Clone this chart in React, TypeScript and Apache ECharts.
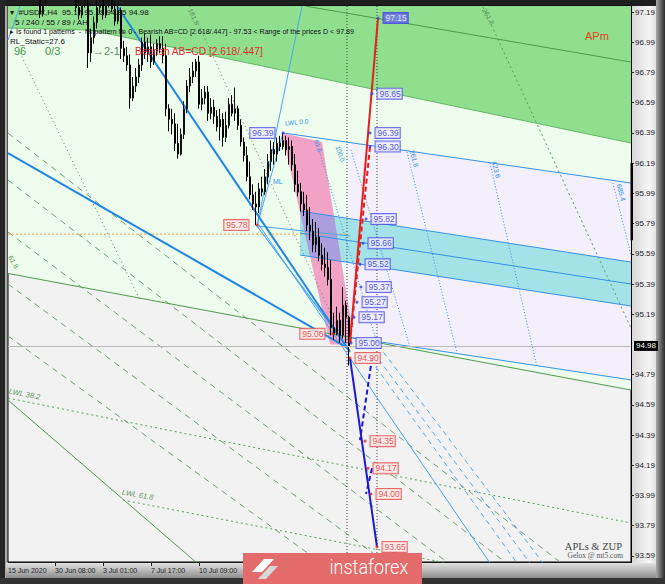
import React, { useEffect, useRef } from "react";
import * as echarts from "echarts";

const FONT = "'Liberation Sans', Arial, sans-serif";
const SERIF = "'Liberation Serif', 'DejaVu Serif', serif";

// ---- axes (x = H4 bar index, y = price) ----
const X_MIN = -0.67;
const X_MAX = 207;
const Y_MIN = 93.55;
const Y_MAX = 97.23;

const priceTicks = [97.19, 96.99, 96.79, 96.59, 96.39, 96.19, 95.99, 95.79, 95.59, 95.39, 95.19, 94.79, 94.59, 94.39, 94.19, 93.99, 93.79, 93.59];
const timeTickPos = [-0.67, 15, 31, 47, 63];
const timeTickLabels = ["15 Jun 2020", "30 Jun 08:00", "3 Jul 01:00", "7 Jul 17:00", "10 Jul 09:00"];
const lastPrice = 94.98;

// ---- candles: [open, high, low, close], bar k ----
const ohlc: number[][] = [
  [97.35, 97.42, 97.3, 97.38], [97.38, 97.44, 97.33, 97.36], [97.36, 97.4, 97.28, 97.31], [97.31, 97.37, 97.27, 97.34],
  [97.34, 97.45, 97.32, 97.42], [97.42, 97.48, 97.37, 97.4], [97.4, 97.43, 97.31, 97.33], [97.33, 97.36, 97.27, 97.3],
  [97.3, 97.34, 97.25, 97.27], [97.27, 97.31, 97.24, 97.29], [97.29, 97.31, 97.15, 97.18], [97.18, 97.26, 97.16, 97.24],
  [97.24, 97.35, 97.23, 97.33], [97.33, 97.4, 97.3, 97.38], [97.38, 97.46, 97.35, 97.44], [97.44, 97.5, 97.39, 97.41],
  [97.41, 97.45, 97.36, 97.39], [97.39, 97.44, 97.34, 97.36], [97.36, 97.41, 97.31, 97.38], [97.38, 97.42, 97.3, 97.33],
  [97.33, 97.37, 97.28, 97.31], [97.31, 97.34, 97.25, 97.29], [97.29, 97.33, 97.19, 97.22], [97.22, 97.27, 97.14, 97.17],
  [97.17, 97.26, 97.15, 97.24], [97.24, 97.32, 97.22, 97.28], [97.24, 97.27, 96.82, 96.92], [96.92, 97.08, 96.86, 97.02],
  [97.02, 97.16, 96.98, 97.12], [97.12, 97.28, 97.08, 97.22], [97.22, 97.32, 97.18, 97.27], [97.27, 97.3, 97.14, 97.17],
  [97.17, 97.29, 97.15, 97.26], [97.26, 97.34, 97.22, 97.3], [97.3, 97.33, 97.19, 97.21], [97.21, 97.26, 97.1, 97.13],
  [97.13, 97.24, 97.11, 97.2], [97.2, 97.22, 96.88, 96.95], [96.95, 97.0, 96.86, 96.9], [96.9, 96.96, 96.8, 96.84],
  [96.84, 96.91, 96.55, 96.62], [96.62, 96.76, 96.6, 96.7], [96.7, 96.82, 96.66, 96.76], [96.76, 96.88, 96.72, 96.84],
  [96.84, 97.02, 96.8, 96.99], [96.99, 97.05, 96.88, 96.92], [96.92, 97.02, 96.86, 96.96], [96.96, 97.04, 96.82, 96.86],
  [96.86, 96.98, 96.84, 96.93], [96.93, 97.01, 96.9, 96.98], [96.98, 97.03, 96.92, 96.95], [96.95, 97.03, 96.85, 96.9],
  [96.9, 96.98, 96.5, 96.55], [96.55, 96.58, 96.4, 96.48], [96.48, 96.55, 96.38, 96.45], [96.45, 96.52, 96.27, 96.32],
  [96.32, 96.45, 96.22, 96.25], [96.25, 96.42, 96.24, 96.38], [96.38, 96.6, 96.35, 96.55], [96.55, 96.74, 96.52, 96.7],
  [96.7, 96.82, 96.66, 96.76], [96.76, 96.86, 96.72, 96.8], [96.8, 96.88, 96.76, 96.86], [96.86, 96.9, 96.55, 96.58],
  [96.58, 96.68, 96.54, 96.62], [96.62, 96.7, 96.58, 96.66], [96.66, 96.7, 96.47, 96.52], [96.52, 96.62, 96.48, 96.56],
  [96.56, 96.61, 96.45, 96.5], [96.5, 96.54, 96.4, 96.43], [96.43, 96.55, 96.34, 96.48], [96.48, 96.52, 96.3, 96.36],
  [96.36, 96.53, 96.33, 96.44], [96.44, 96.62, 96.42, 96.58], [96.58, 96.64, 96.5, 96.52], [96.52, 96.69, 96.47, 96.55],
  [96.55, 96.57, 96.41, 96.44], [96.44, 96.48, 96.3, 96.33], [96.33, 96.36, 96.2, 96.24], [96.24, 96.3, 96.07, 96.1],
  [96.1, 96.2, 95.95, 95.98], [95.98, 96.05, 95.88, 95.92], [95.92, 96.0, 95.78, 95.9], [95.9, 96.06, 95.86, 96.02],
  [96.02, 96.1, 95.97, 96.0], [96.0, 96.15, 95.98, 96.1], [96.1, 96.25, 96.05, 96.2], [96.2, 96.34, 96.14, 96.28],
  [96.28, 96.33, 96.18, 96.25], [96.25, 96.36, 96.2, 96.32], [96.32, 96.37, 96.27, 96.3], [96.3, 96.39, 96.28, 96.34],
  [96.34, 96.37, 96.24, 96.28], [96.28, 96.36, 96.18, 96.3], [96.3, 96.34, 96.14, 96.18], [96.18, 96.25, 96.0, 96.05],
  [96.05, 96.14, 95.97, 96.0], [96.0, 96.06, 95.87, 95.92], [95.92, 96.0, 95.84, 95.88], [95.88, 95.98, 95.74, 95.78],
  [95.78, 95.9, 95.68, 95.74], [95.74, 95.82, 95.6, 95.65], [95.65, 95.8, 95.6, 95.7], [95.7, 95.76, 95.54, 95.58],
  [95.58, 95.66, 95.48, 95.52], [95.52, 95.63, 95.44, 95.5], [95.5, 95.6, 95.38, 95.42], [95.42, 95.55, 95.05, 95.1],
  [95.1, 95.2, 95.02, 95.06], [95.06, 95.24, 95.05, 95.15], [95.15, 95.2, 95.0, 95.05], [95.05, 95.37, 95.03, 95.25],
  [95.25, 95.28, 95.0, 95.17], [95.17, 95.18, 94.85, 94.98],
];

// ---- zones (polygons in bar/price units) ----
const lightGreenZone = [[-0.67, 97.23], [207, 97.23], [207, 94.688], [-0.67, 95.46]];
const greenBand = [[-0.67, 97.23], [207, 97.23], [207, 96.323], [26.67, 97.071], [-0.67, 97.084]];
const lavenderZone = [[112.33, 96.329], [207, 96.058], [207, 94.755], [112.33, 95.04]];
const cyanZone = [[96.67, 95.873], [207, 95.535], [207, 95.244], [96.67, 95.582]];
const pinkZone = [[90.67, 96.39], [104, 96.33], [114, 95.1], [114, 94.99], [106.67, 94.99]];
const pinkCyanOverlap = [[96.67, 95.87], [108.0, 95.838], [110.43, 95.54], [100.03, 95.572]];

// ---- trend lines ----
const blueThick = [
  [[35.67, 97.23], [113.33, 94.94]],
  [[-0.67, 96.257], [112.67, 94.966]],
];
const blueThin = [
  [[82.33, 95.8], [160, 93.543]],
  [[82.33, 95.774], [113.33, 94.953]],
  [[82.33, 95.774], [111.67, 94.986]],
  [[82.33, 95.774], [113.33, 95.708]],
  [[82.33, 95.774], [97.33, 97.23]],
  [[82.33, 95.774], [91, 96.389]],
  [[3.33, 97.23], [-0.67, 97.005]],
];
const channelLines = [
  [[91, 96.39], [207, 96.058]],
  [[96.67, 95.873], [207, 95.535]],
  [[96.67, 95.727], [207, 95.39]],
  [[96.67, 95.582], [207, 95.244]],
  [[112.67, 95.039], [207, 94.755]],
];
const blueDashed = [
  [[116.67, 94.986], [169, 93.543]],
  [[119.33, 94.986], [173.33, 93.543]],
  [[122.67, 94.986], [177.67, 93.543]],
];
const fibTimeLines = [
  [[132.33, 96.263], [149, 94.933]],
  [[160, 96.191], [175.67, 94.84]],
  [[201, 96.058], [207, 95.582]],
  [[113.67, 96.277], [133.33, 94.973]],
  [[102.33, 96.323], [122.33, 94.999]],
];
const greenSolid = [
  [[-0.67, 95.46], [207, 94.688]],
  [[98.33, 97.23], [207, 96.859]],
  [[-0.67, 94.622], [62.33, 93.543]],
];
const greenBandEdge = [[-0.67, 97.084], [26.67, 97.071], [207, 96.323]];
const greenDotted = [
  [[-0.67, 94.635], [207, 93.808]],
  [[37.67, 93.96], [145.67, 93.543]],
  [[157.67, 97.223], [207, 95.099]],
];
const greyDotted = [
  [[3.33, 96.919], [43.33, 95.284]],
  [[60, 97.23], [111.67, 94.986]],
];
const greenDashed = [
  [[-0.67, 96.389], [183.33, 93.55]],
  [[-0.67, 96.078], [165, 93.55]],
  [[-0.67, 95.734], [145.67, 93.55]],
  [[-0.67, 95.39], [125, 93.55]],
  [[-0.67, 95.046], [103.33, 93.55]],
];
const orangeLevel = [[-0.67, 95.72], [112, 95.72]];
const verticalBars = [112.33, 122.33];
const edgeBar = [[207.33, 96.19], [207.33, 95.68]];

// AB=CD projections
const redSolid = [[113.33, 95.0], [122.67, 97.15]];
const redDashed = [[113.33, 95.0], [120, 96.3]];
const blueProjSolid = [[113.33, 94.9], [122.33, 93.65]];
const blueProjDashed = [
  [[120.67, 94.9], [116.67, 94.357]],
  [[120.67, 94.17], [118.67, 94.0]],
];

// price label boxes: [bar, price, kind, side]
const priceBoxes: [number, number, string, string][] = [
  [122.67, 97.15, "bs", "r"], [120.67, 96.65, "b", "r"], [120, 96.39, "b", "r"], [120, 96.3, "b", "r"],
  [118.67, 95.82, "b", "r"], [117.67, 95.66, "b", "r"], [116.67, 95.52, "b", "r"], [117, 95.37, "b", "r"],
  [115.67, 95.27, "b", "r"], [114.67, 95.17, "b", "r"], [113.67, 95.0, "b", "r"], [91, 96.39, "b", "l"],
  [82.33, 95.78, "r", "l"], [107.67, 95.06, "r", "l"], [113.33, 94.9, "r", "r"], [118.33, 94.35, "r", "r"],
  [119.33, 94.17, "r", "r"], [120.33, 94.0, "r", "r"], [122.33, 93.65, "r", "r"],
];

function lineSeries(pts: number[][], color: string, width: number, type: any, z = 3, clip = true) {
  return {
    type: "line", data: pts, symbol: "none", showSymbol: false, silent: true, z,
    lineStyle: { color, width, type }, clip,
  };
}

function polySeries(pts: number[][], fill: string, z = 1, opacity = 1) {
  return {
    type: "custom", coordinateSystem: "cartesian2d", silent: true, z, clip: true,
    data: [pts[0]],
    renderItem: (_p: any, api: any) => ({
      type: "polygon",
      shape: { points: pts.map((p) => api.coord(p)) },
      style: { fill, opacity },
    }),
  };
}

const boxStyles: Record<string, any> = {
  b: { color: "#2c2cd6", backgroundColor: "#eeeefd", borderColor: "#4848e2" },
  bs: { color: "#ffffff", backgroundColor: "#6b6bef", borderColor: "#3c3ce0" },
  r: { color: "#e22a2a", backgroundColor: "#fdeaea", borderColor: "#e24848" },
};

// deg > 0 rotates clockwise (text runs down-right)
function rotText(text: string, x: number, y: number, deg: number, fill: string, size = 7, italic = false) {
  return {
    type: "text", x, y, rotation: (-deg * Math.PI) / 180, z: 50, silent: true,
    style: { text, fill, font: `${italic ? "italic " : ""}${size}px ${FONT}`, verticalAlign: "middle" },
  };
}

function buildOption(): any {
  const series: any[] = [];
  series.push(polySeries(lightGreenZone, "#eefcee", 1));
  series.push(polySeries(greenBand, "#8fdf8f", 1));
  series.push(polySeries(lavenderZone, "#f3effb", 1));
  series.push(polySeries(cyanZone, "#9ee0e6", 1, 0.95));
  series.push(polySeries(pinkZone, "#f29ac2", 1, 0.92));
  series.push(polySeries(pinkCyanOverlap, "#aa9fdc", 1));

  greenDashed.forEach((l) => series.push(lineSeries(l, "#6f9f6f", 1, [6, 5])));
  greenDotted.forEach((l) => series.push(lineSeries(l, "#5aa05a", 1, [2, 3])));
  greyDotted.forEach((l) => series.push(lineSeries(l, "#6b7d6b", 1, [1, 3])));
  greenSolid.forEach((l) => series.push(lineSeries(l, "#4f9a4f", 1, "solid")));
  series.push(lineSeries(greenBandEdge, "#62b862", 1, "solid"));
  series.push(lineSeries(orangeLevel, "#f0a030", 1, [2, 2]));
  verticalBars.forEach((v) => series.push(lineSeries([[v, Y_MIN], [v, Y_MAX]], "#444", 1, [1, 2])));
  channelLines.forEach((l) => series.push(lineSeries(l, "#3592e6", 1, "solid")));
  fibTimeLines.forEach((l) => series.push(lineSeries(l, "#3592e6", 1, [1, 2])));
  blueDashed.forEach((l) => series.push(lineSeries(l, "#5aaaf0", 1, [5, 4])));
  blueThin.forEach((l) => series.push(lineSeries(l, "#4aa4ee", 1, "solid")));
  blueThick.forEach((l) => series.push(lineSeries(l, "#2185e3", 2, "solid")));
  series.push(lineSeries(edgeBar, "#000", 3, "solid", 7, false));

  series.push({
    type: "candlestick", z: 4, silent: true, clip: true, barWidth: 2,
    data: ohlc.map((d, k) => [k, d[0], d[3], d[2], d[1]]),
    encode: { x: 0, y: [1, 2, 3, 4] },
    itemStyle: { color: "#a4a4a4", color0: "#000", borderColor: "#111", borderColor0: "#000", borderWidth: 1 },
    markLine: {
      symbol: "none", silent: true, animation: false,
      lineStyle: { color: "#b8b8b8", width: 1, type: "solid" },
      label: {
        position: "end", formatter: lastPrice.toFixed(2), backgroundColor: "#000", color: "#fff",
        fontSize: 8, fontFamily: FONT, padding: [1, 2, 1, 2], distance: 3,
      },
      data: [{ yAxis: lastPrice }],
    },
  });

  series.push(lineSeries(redSolid, "#e42020", 2, "solid", 5));
  series.push(lineSeries(redDashed, "#e42020", 2, [5, 3], 5));
  series.push(lineSeries(blueProjSolid, "#1a1ad2", 2, "solid", 5));
  blueProjDashed.forEach((l) => series.push(lineSeries(l, "#1a1ad2", 2, [5, 3], 5)));

  series.push({
    type: "scatter", z: 6, silent: true, clip: false, symbol: "circle", symbolSize: 3,
    data: priceBoxes.map(([v, p, kind, side]) => ({
      value: [v, p],
      itemStyle: { color: kind === "r" ? "#e22a2a" : "#3c3ce0" },
      label: {
        show: true, position: side === "r" ? "right" : "left", distance: side === "r" ? 4 : 7,
        formatter: p.toFixed(2), fontSize: 8.5, fontFamily: FONT, borderWidth: 1,
        padding: [1, 1, 0, 2], lineHeight: 9, ...boxStyles[kind],
      },
    })),
  });

  const graphic: any[] = [
    // frame
    { type: "rect", shape: { x: 0, y: 0, width: 665, height: 6 }, style: { fill: "#1e1e1e" }, z: -1 },
    { type: "rect", shape: { x: 0, y: 0, width: 6, height: 584 }, style: { fill: "#262626" }, z: -1 },
    { type: "rect", shape: { x: 5, y: 6, width: 3, height: 572 }, style: { fill: "#a8a8a8" }, z: -1 },
    {
      type: "rect", shape: { x: 632, y: 6, width: 25, height: 572 }, z: -1,
      style: { fill: new echarts.graphic.LinearGradient(0, 0, 1, 0, [{ offset: 0, color: "#d8d8d8" }, { offset: 0.7, color: "#f6f6f6" }, { offset: 1, color: "#dedede" }]) },
    },
    {
      type: "rect", shape: { x: 656, y: 0, width: 9, height: 584 }, z: -1,
      style: { fill: new echarts.graphic.LinearGradient(0, 0, 1, 0, [{ offset: 0, color: "#a9a9a9" }, { offset: 1, color: "#2a2a2a" }]) },
    },
    {
      type: "rect", shape: { x: 6, y: 563, width: 650, height: 15 }, z: -1,
      style: { fill: new echarts.graphic.LinearGradient(0, 0, 0, 1, [{ offset: 0, color: "#e2e2e2" }, { offset: 1, color: "#8e8e8e" }]) },
    },
    { type: "rect", shape: { x: 0, y: 578, width: 665, height: 6 }, style: { fill: "#333" }, z: -1 },

    // header
    { type: "text", x: 10, y: 12, z: 50, silent: true, style: { text: "▾  #USDX,H4  95.17 95.18 94.85 94.98", fill: "#111", font: `8px ${FONT}`, verticalAlign: "middle" } },
    { type: "text", x: 15, y: 22, z: 50, silent: true, style: { text: "5 / 240 / 55 / 89 / AH", fill: "#111", font: `8px ${FONT}`, verticalAlign: "middle" } },
    { type: "text", x: 10, y: 32, z: 50, silent: true, style: { text: "▸ Is found 1 patterns  -  № pattern № 0 - Bearish AB=CD [2.618/.447] - 97.53 < Range of the prices D < 97.89", fill: "#111", font: `7.1px ${FONT}`, verticalAlign: "middle" } },
    { type: "text", x: 10, y: 41, z: 50, silent: true, style: { text: "RL_Static=27.6", fill: "#111", font: `8px ${FONT}`, verticalAlign: "middle" } },
    { type: "text", x: 14, y: 51, z: 50, silent: true, style: { text: "96", fill: "#3e9a3e", font: `11px ${FONT}`, verticalAlign: "middle" } },
    { type: "text", x: 45, y: 51, z: 50, silent: true, style: { text: "0/3", fill: "#3e9a3e", font: `11px ${FONT}`, verticalAlign: "middle" } },
    { type: "text", x: 93, y: 51, z: 50, silent: true, style: { text: "→2-1", fill: "#5f8f5f", font: `11px ${FONT}`, verticalAlign: "middle" } },
    { type: "text", x: 135, y: 51, z: 50, silent: true, style: { text: "Bearish AB=CD [2.618/.447]", fill: "#e03030", font: `10.2px ${FONT}`, verticalAlign: "middle" } },
    { type: "text", x: 585, y: 36, z: 50, silent: true, style: { text: "APm", fill: "#e2441c", font: `11px ${FONT}`, verticalAlign: "middle" } },
    { type: "text", x: 622, y: 546, z: 50, silent: true, style: { text: "APLs & ZUP", fill: "#444", font: `10.5px ${SERIF}`, align: "right", verticalAlign: "middle" } },
    { type: "text", x: 623, y: 555, z: 50, silent: true, style: { text: "Gelox @ mt5.com", fill: "#555", font: `7.5px ${SERIF}`, align: "right", verticalAlign: "middle" } },

    // rotated level captions
    rotText("161.8", 190, 9, 65, "#5f955f"),
    rotText("261.8", 484, 9, 60, "#5f955f"),
    rotText("261.8", 412, 150, 75, "#3592e6"),
    rotText("423.6", 494, 161, 75, "#3592e6"),
    rotText("685.4", 619, 184, 75, "#3592e6"),
    rotText("61.8", 10, 256, 60, "#5f955f"),
    rotText("LWL 38.2", 9, 391, 11, "#5f955f", 7.5, true),
    rotText("LWL 61.8", 122, 492, 10, "#5f955f", 7.5, true),
    rotText("LWL 0.0", 285, 123, -5, "#3592e6", 6.5),
    rotText("ML", 273, 181, 0, "#3592e6", 7),
    rotText("61.8", 316, 140, 70, "#3592e6", 6.5),
    rotText("100.0", 338, 146, 72, "#3592e6", 6.5),

    // instaforex banner
    { type: "rect", shape: { x: 243, y: 553, width: 179, height: 31 }, style: { fill: "#e46b6b" }, z: 100 },
    { type: "text", x: 289, y: 567, z: 101, silent: true, style: { text: "instaforex", fill: "#ffffff", font: `300 21px Roboto, ${FONT}`, verticalAlign: "middle" }, scaleX: 0.86, originX: 289 },
    { type: "polygon", shape: { points: [[252, 572], [264, 559], [274, 559], [262, 572]] }, style: { fill: "#ffffff" }, z: 101 },
    { type: "polygon", shape: { points: [[258, 579], [270, 566], [278, 566], [266, 579]] }, style: { fill: "#d8d8d8" }, z: 101 },
  ];

  return {
    animation: false,
    backgroundColor: "transparent",
    grid: { left: 8, top: 6, width: 623, height: 556, show: true, backgroundColor: "#f2f2f2", borderColor: "#000", borderWidth: 1 },
    xAxis: {
      type: "value", min: X_MIN, max: X_MAX, position: "bottom",
      axisLine: { show: false, onZero: false }, splitLine: { show: false },
      axisTick: { show: true, customValues: timeTickPos.slice(1), length: 4, inside: false, lineStyle: { color: "#222" } },
      axisLabel: {
        customValues: timeTickPos, align: "left", margin: 5, fontSize: 7, fontFamily: FONT, color: "#222",
        hideOverlap: false,
        formatter: (v: number) => {
          const i = timeTickPos.findIndex((t) => Math.abs(t - v) < 0.01);
          return i >= 0 ? timeTickLabels[i] : "";
        },
      },
    },
    yAxis: {
      type: "value", min: Y_MIN, max: Y_MAX, position: "right",
      axisLine: { show: true, onZero: false, lineStyle: { color: "#000" } }, splitLine: { show: false },
      axisTick: { show: true, customValues: priceTicks, length: 3, inside: false, lineStyle: { color: "#222" } },
      axisLabel: {
        customValues: priceTicks, margin: 4, fontSize: 8, fontFamily: FONT, color: "#222",
        formatter: (v: number) => v.toFixed(2),
      },
    },
    series,
    graphic,
  };
}

export default function App() {
  const ref = useRef<HTMLDivElement>(null);
  useEffect(() => {
    const chart = echarts.init(ref.current!, null, { renderer: "svg" });
    chart.setOption(buildOption());
    return () => chart.dispose();
  }, []);
  return (
    <div
      ref={ref}
      style={{ position: "fixed", left: 0, top: 0, width: 665, height: 584, background: "#2d2d2d" }}
    />
  );
}
